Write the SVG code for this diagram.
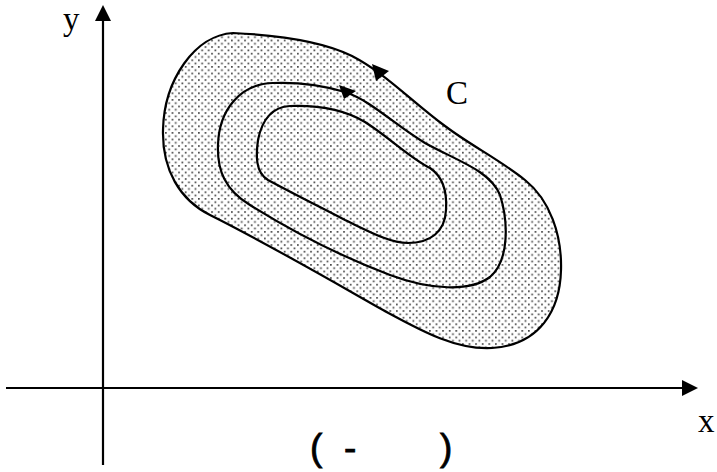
<svg xmlns="http://www.w3.org/2000/svg" width="717" height="472" viewBox="0 0 717 472">
  <style>
    .ax { stroke: #000; stroke-width: 2.2; fill: none; }
    .ct { stroke: #000; stroke-width: 2.2; fill: none; stroke-linejoin: round; }
    .ah { fill: #000; stroke: none; }
    .lbl { font-family: "Liberation Serif", "Times New Roman", serif; font-size: 33px; fill: #000; }
    .cap { font-family: "Liberation Sans", Arial, sans-serif; font-size: 37px; fill: #000; stroke: #000; stroke-width: 0.8; }
  </style>
  <defs>
    <pattern id="dots" width="6.6" height="6.6" patternUnits="userSpaceOnUse">
      <rect x="0" y="0" width="1.7" height="1.7" fill="#484848"/>
      <rect x="3.3" y="3.3" width="1.7" height="1.7" fill="#484848"/>
    </pattern>
    <marker id="axarrow" markerUnits="userSpaceOnUse" markerWidth="16" markerHeight="16" viewBox="0 0 16 16" refX="0" refY="8" orient="auto">
      <path d="M0,0 L16,8 L0,16 Z" fill="#000"/>
    </marker>
  </defs>
  <rect width="717" height="472" fill="#fff"/>

  <g id="axes">
    <line class="ax" x1="103" y1="465" x2="103" y2="21" marker-end="url(#axarrow)"/>
    <line class="ax" x1="6" y1="388" x2="682" y2="388" marker-end="url(#axarrow)"/>
  </g>

  <g id="region">
    <path id="outer" class="ct" style="fill:url(#dots)" d="M 233,33 C 275,35 320,40 352,56 C 385,73 410,100 445,126 C 470,145 500,160 525,180 C 550,200 562,235 561,270 C 560,310 540,345 492,348 C 455,350 420,330 383,310 C 330,280 270,245 210,215 C 180,200 162,170 163,130 C 164,80 195,35 233,33 Z"/>
    <path id="middle" class="ct" d="M 273,83 C 300,82 325,86 345,92 C 370,100 395,125 425,143 C 455,160 490,170 500,195 C 508,220 510,260 490,277 C 470,292 430,290 390,275 C 340,256 290,230 250,205 C 225,190 217,170 218,145 C 219,110 240,84 273,83 Z"/>
    <path id="inner" class="ct" d="M 290,106 C 320,105 345,110 365,122 C 390,138 410,158 430,168 C 445,178 447,195 446,210 C 445,232 430,243 408,243 C 390,243 370,232 345,220 C 320,207 290,192 268,180 C 255,172 256,155 258,140 C 262,120 272,107 290,106 Z"/>
  </g>

  <g id="curve-arrows">
    <polygon class="ah" points="372,64 376,81 389,71"/>
    <polygon class="ah" points="339,85 344,99 356,91"/>
  </g>

  <g id="labels">
    <text class="lbl" x="63" y="30">y</text>
    <text class="lbl" x="446" y="104">C</text>
    <text class="lbl" x="698" y="432">x</text>
    <text class="cap" x="310" y="460">(</text>
    <text class="cap" x="344" y="460">-</text>
    <text class="cap" x="440" y="460">)</text>
  </g>
</svg>
